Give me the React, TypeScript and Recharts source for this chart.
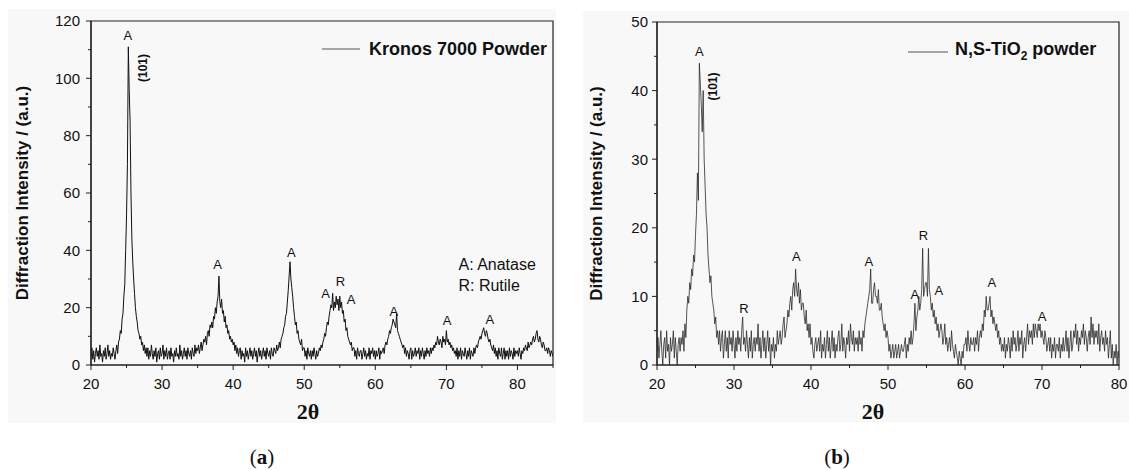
import { LineChart, Line, XAxis, YAxis, ReferenceDot, ReferenceArea, Legend } from 'recharts';

const SANS = '"Liberation Sans", Arial, sans-serif';
const SERIF = '"Liberation Serif", "Times New Roman", serif';

// (a) Kronos 7000 powder, scan from 20° in 0.125° steps (one row per degree)
const startA = 20;
const stepA = 0.125;
const intensityA = [
  3, 6, 2, 5, 1, 4, 6, 3,
  5, 2, 7, 3, 4, 1, 5, 3,
  6, 2, 4, 7, 3, 5, 2, 4,
  3, 6, 4, 2, 5, 7, 4, 8,
  9, 12, 11, 16, 18, 24, 28, 40,
  52, 70, 111, 96, 85, 60, 44, 36,
  30, 25, 20, 17, 15, 12, 11, 9,
  10, 7, 8, 5, 7, 4, 6, 3,
  6, 2, 5, 3, 7, 4, 2, 5,
  3, 6, 1, 4, 5, 2, 6, 3,
  4, 7, 2, 5, 3, 6, 2, 4,
  5, 2, 6, 3, 4, 1, 5, 3,
  6, 3, 4, 2, 7, 3, 5, 2,
  4, 6, 3, 5, 2, 6, 4, 3,
  5, 2, 6, 4, 3, 7, 4, 6,
  5, 7, 4, 6, 8, 5, 7, 9,
  8, 10, 7, 11, 12, 10, 14, 13,
  15, 13, 17, 16, 20, 18, 22, 24,
  31, 22, 20, 23, 18, 19, 15, 17,
  13, 14, 11, 12, 9, 10, 8, 9,
  7, 8, 5, 7, 4, 6, 3, 5,
  6, 2, 5, 3, 4, 1, 6, 3,
  5, 2, 4, 6, 3, 5, 2, 4,
  6, 3, 5, 1, 4, 6, 3, 5,
  2, 4, 6, 3, 5, 2, 6, 4,
  3, 5, 2, 6, 4, 3, 6, 5,
  4, 7, 5, 6, 8, 6, 9, 10,
  11, 13, 14, 17, 18, 22, 26, 31,
  36, 30, 27, 24, 20, 17, 14, 15,
  11, 12, 9, 8, 7, 9, 5, 6,
  6, 3, 5, 2, 6, 4, 3, 5,
  2, 5, 3, 6, 4, 2, 5, 3,
  4, 6, 5, 7, 6, 8, 9, 11,
  10, 13, 15, 14, 17, 19, 21, 20,
  25, 19, 22, 20, 24, 21, 23, 19,
  24, 20, 22, 18, 19, 15, 16, 12,
  13, 10, 9, 8, 7, 8, 5, 6,
  6, 3, 5, 2, 6, 4, 3, 5,
  5, 2, 4, 6, 3, 5, 2, 4,
  3, 6, 2, 5, 4, 6, 3, 5,
  2, 5, 3, 4, 6, 2, 5, 4,
  5, 6, 4, 7, 8, 7, 9, 10,
  12, 11, 13, 14, 16, 15, 14, 13,
  18, 12, 11, 10, 9, 8, 7, 6,
  7, 4, 6, 3, 5, 4, 2, 5,
  6, 2, 5, 3, 4, 6, 3, 5,
  4, 6, 2, 5, 3, 6, 4, 2,
  5, 3, 6, 4, 5, 3, 6, 4,
  6, 5, 7, 6, 8, 7, 10, 8,
  7, 9, 8, 6, 10, 8, 9, 7,
  12, 8, 9, 7, 8, 6, 7, 5,
  6, 4, 5, 3, 6, 2, 5, 3,
  6, 2, 5, 4, 3, 6, 4, 2,
  5, 3, 6, 2, 5, 4, 3, 6,
  4, 6, 7, 6, 8, 9, 10, 9,
  11, 12, 13, 11, 10, 12, 11, 9,
  8, 9, 7, 6, 5, 7, 4, 6,
  3, 5, 2, 6, 4, 3, 6, 2,
  4, 6, 2, 5, 3, 5, 2, 6,
  3, 5, 4, 2, 6, 3, 5, 4,
  5, 3, 6, 4, 2, 5, 4, 6,
  5, 7, 6, 5, 8, 6, 7, 8,
  7, 9, 10, 8, 9, 11, 12, 9,
  8, 10, 9, 7, 6, 8, 7, 5,
  5, 6, 4, 6, 5, 3, 5, 4,
  3,
];

// (b) N,S-TiO2 powder, scan from 20° in 0.125° steps (one row per degree)
const startB = 20;
const stepB = 0.125;
const intensityB = [
  2, 4, 1, 3, 5, 2, 0, 3,
  4, 1, 5, 2, 3, 0, 4, 2,
  3, 5, 1, 4, 2, 0, 3, 4,
  2, 4, 3, 5, 2, 6, 4, 8,
  10, 9, 12, 11, 14, 13, 16, 15,
  19, 22, 28, 24, 44, 41, 38, 34,
  40, 30, 26, 22, 20, 16, 14, 12,
  13, 10, 9, 8, 6, 7, 4, 5,
  3, 5, 2, 4, 5, 1, 3, 5,
  2, 4, 1, 5, 3, 4, 2, 5,
  3, 1, 4, 2, 5, 3, 4, 2,
  5, 7, 3, 4, 2, 5, 3, 1,
  4, 2, 5, 1, 3, 4, 2, 4,
  3, 6, 2, 4, 1, 3, 5, 2,
  4, 1, 3, 5, 2, 4, 0, 3,
  2, 4, 1, 3, 2, 5, 3, 4,
  5, 3, 4, 6, 7, 4, 5, 6,
  8, 7, 9, 10, 8, 11, 12, 10,
  14, 11, 10, 12, 9, 11, 8, 9,
  9, 7, 6, 8, 5, 6, 4, 6,
  3, 4, 2, 1, 3, 4, 2, 3,
  4, 2, 5, 1, 3, 2, 4, 1,
  3, 5, 2, 4, 1, 3, 5, 2,
  4, 1, 3, 2, 4, 5, 2, 3,
  6, 2, 4, 3, 1, 4, 3, 5,
  2, 6, 4, 3, 5, 2, 4, 3,
  4, 2, 5, 3, 4, 2, 5, 4,
  6, 7, 8, 9, 10, 11, 14, 9,
  9, 11, 12, 10, 10, 9, 11, 8,
  8, 9, 7, 6, 5, 6, 4, 5,
  4, 2, 3, 1, 2, 3, 1, 2,
  3, 1, 2, 3, 1, 2, 3, 2,
  2, 3, 4, 1, 3, 2, 4, 3,
  5, 3, 4, 6, 9, 5, 7, 8,
  10, 8, 9, 11, 17, 10, 11, 12,
  12, 10, 17, 11, 10, 8, 9, 7,
  8, 6, 7, 5, 6, 4, 5, 6,
  5, 3, 4, 6, 3, 4, 2, 3,
  4, 2, 5, 3, 2, 1, 3, 2,
  1, 0, 2, 1, 0, 2, 1, 3,
  3, 4, 2, 5, 3, 2, 4, 3,
  3, 4, 2, 4, 3, 5, 2, 4,
  5, 4, 6, 5, 8, 7, 10, 8,
  8, 9, 10, 7, 8, 6, 7, 6,
  5, 6, 4, 5, 3, 4, 2, 3,
  2, 4, 1, 3, 2, 4, 3, 1,
  4, 2, 5, 3, 4, 2, 3, 5,
  2, 4, 3, 5, 1, 3, 4, 2,
  4, 6, 3, 5, 4, 5, 3, 6,
  4, 6, 5, 4, 6, 5, 6, 4,
  5, 4, 3, 5, 4, 2, 3, 4,
  2, 4, 1, 3, 2, 4, 1, 3,
  3, 2, 4, 1, 3, 2, 4, 2,
  3, 5, 2, 4, 1, 3, 5, 2,
  3, 5, 4, 6, 3, 5, 2, 4,
  3, 5, 4, 6, 3, 5, 4, 2,
  4, 5, 3, 7, 4, 6, 3, 5,
  4, 5, 3, 6, 2, 4, 5, 3,
  4, 2, 5, 3, 4, 1, 3, 5,
  1, 3, 0, 2, 1, 3, 0, 2,
  1,
];

const xTicksA = [20, 25, 30, 35, 40, 45, 50, 55, 60, 65, 70, 75, 80, 85];
const xLabelsA = [20, 30, 40, 50, 60, 70, 80];
const yTicksA = [0, 10, 20, 30, 40, 50, 60, 70, 80, 90, 100, 110, 120];
const yLabelsA = [0, 20, 40, 60, 80, 100, 120];

const xTicksB = [20, 25, 30, 35, 40, 45, 50, 55, 60, 65, 70, 75, 80];
const xLabelsB = [20, 30, 40, 50, 60, 70, 80];
const yTicksB = [0, 5, 10, 15, 20, 25, 30, 35, 40, 45, 50];
const yLabelsB = [0, 10, 20, 30, 40, 50];

// phase marks (A = anatase, R = rutile) in data coordinates
const peakMarksA = [
  { x: 25.2, y: 114.8, text: 'A' },
  { x: 37.8, y: 34.9, text: 'A' },
  { x: 48.2, y: 39.2, text: 'A' },
  { x: 53.0, y: 25.0, text: 'A' },
  { x: 55.1, y: 29.3, text: 'R' },
  { x: 56.6, y: 23.0, text: 'A' },
  { x: 62.6, y: 18.6, text: 'A' },
  { x: 70.1, y: 15.5, text: 'A' },
  { x: 76.1, y: 15.7, text: 'A' },
];
const peakMarksB = [
  { x: 25.5, y: 45.7, text: 'A' },
  { x: 31.3, y: 8.2, text: 'R' },
  { x: 38.1, y: 15.8, text: 'A' },
  { x: 47.5, y: 15.1, text: 'A' },
  { x: 53.5, y: 10.3, text: 'A' },
  { x: 54.6, y: 18.9, text: 'R' },
  { x: 56.6, y: 10.9, text: 'A' },
  { x: 63.5, y: 12.0, text: 'A' },
  { x: 70.0, y: 7.0, text: 'A' },
];
const hklA = { x: 27.3, y: 103.6, text: '(101)' };
const hklB = { x: 27.3, y: 40.6, text: '(101)' };
const phaseKeyA = [
  { x: 71.7, y: 34.9, text: 'A: Anatase' },
  { x: 71.7, y: 27.9, text: 'R: Rutile' },
];

const buildRows = (start: number, step: number, values: number[]) =>
  values.map((v, i) => ({ x: +(start + i * step).toFixed(3), y: v }));

const makeXTick = (labels: number[]) => (props: any) => {
  const { x, y, payload } = props;
  const major = labels.includes(payload.value);
  return (
    <g>
      <line x1={x} x2={x} y1={y} y2={y + (major ? 5 : 3)} stroke="#222" strokeWidth={1} />
      {major && (
        <text x={x} y={y + 23.5} textAnchor="middle" fontSize={15} fontFamily={SANS} fill="#111">
          {payload.value}
        </text>
      )}
    </g>
  );
};

const makeYTick = (labels: number[], gap: number) => (props: any) => {
  const { x, y, payload } = props;
  const major = labels.includes(payload.value);
  return (
    <g>
      <line x1={x - (major ? 5 : 3)} x2={x} y1={y} y2={y} stroke="#222" strokeWidth={1} />
      {major && (
        <text x={x - gap} y={y + 5.4} textAnchor="end" fontSize={15} fontFamily={SANS} fill="#111">
          {payload.value}
        </text>
      )}
    </g>
  );
};

const markShape = (text: string) => (p: any) => (
  <text x={p.cx} y={p.cy} textAnchor="middle" dominantBaseline="central" fontSize={13} fontFamily={SANS} fill="#111">
    {text}
  </text>
);

const keyShape = (text: string) => (p: any) => (
  <text x={p.cx} y={p.cy} textAnchor="start" dominantBaseline="central" fontSize={16} fontFamily={SANS} fill="#111">
    {text}
  </text>
);

const hklShape = (text: string) => (p: any) => (
  <text
    x={p.cx}
    y={p.cy}
    textAnchor="middle"
    dominantBaseline="central"
    fontSize={12}
    fontWeight={700}
    fontFamily={SANS}
    fill="#111"
    transform={`rotate(-90, ${p.cx}, ${p.cy})`}
  >
    {text}
  </text>
);

const legendBox = (name: React.ReactNode, lineW: number, gap: number) => () => (
  <div style={{ display: 'flex', alignItems: 'center', height: 22, whiteSpace: 'nowrap' }}>
    <svg width={lineW} height={2} style={{ display: 'block' }}>
      <line x1={0} x2={lineW} y1={1} y2={1} stroke="#555" strokeWidth={1} />
    </svg>
    <span style={{ marginLeft: gap, fontFamily: SANS, fontWeight: 700, fontSize: 18, color: '#111', lineHeight: '22px' }}>
      {name}
    </span>
  </div>
);

const yTitle = 'Diffraction Intensity / (a.u.)';

interface PanelProps {
  rows: { x: number; y: number }[];
  left: number;
  width: number;
  margin: { top: number; right: number; bottom: number; left: number };
  yAxisWidth: number;
  yTitleX: number;
  xDomain: [number, number];
  yDomain: [number, number];
  xTicks: number[];
  xLabels: number[];
  yTicks: number[];
  yLabels: number[];
  labelGap: number;
  marks: { x: number; y: number; text: string }[];
  hkl: { x: number; y: number; text: string };
  keys: { x: number; y: number; text: string }[];
  legend: React.ReactNode;
  legendLeft: number;
  legendTop: number;
  legendLine: number;
  legendGap: number;
  stroke: string;
  strokeWidth: number;
  titleShift: number;
}

function Panel(p: PanelProps) {
  return (
    <div style={{ position: 'absolute', left: p.left, top: 0 }}>
      <LineChart width={p.width} height={430} data={p.rows} margin={p.margin}>
        <XAxis
          dataKey="x"
          type="number"
          domain={p.xDomain}
          allowDataOverflow
          ticks={p.xTicks}
          interval={0}
          tickSize={0}
          tickMargin={0}
          tickLine={false}
          tick={makeXTick(p.xLabels)}
          axisLine={{ stroke: '#222', strokeWidth: 1.2 }}
          height={58}
          label={{
            value: '2θ',
            position: 'insideBottom',
            offset: 4,
            dx: p.titleShift,
            style: { fontFamily: SERIF, fontWeight: 700, fontSize: 22, fill: '#111' },
          }}
        />
        <YAxis
          type="number"
          domain={p.yDomain}
          allowDataOverflow
          ticks={p.yTicks}
          interval={0}
          tickSize={0}
          tickMargin={0}
          tickLine={false}
          tick={makeYTick(p.yLabels, p.labelGap)}
          axisLine={{ stroke: '#222', strokeWidth: 1.2 }}
          width={p.yAxisWidth}
          label={{
            value: yTitle,
            angle: -90,
            position: 'insideLeft',
            offset: p.yTitleX,
            style: { textAnchor: 'middle', fontFamily: SANS, fontWeight: 700, fontSize: 17, fill: '#111' },
          }}
        />
        <ReferenceArea
          x1={p.xDomain[0]}
          x2={p.xDomain[1]}
          y1={p.yDomain[0]}
          y2={p.yDomain[1]}
          fill="none"
          stroke="#222"
          strokeWidth={1.2}
        />
        <Line
          dataKey="y"
          type="linear"
          stroke={p.stroke}
          strokeWidth={p.strokeWidth}
          dot={false}
          activeDot={false}
          isAnimationActive={false}
        />
        {p.marks.map((m, i) => (
          <ReferenceDot key={'m' + i} x={m.x} y={m.y} r={0} shape={markShape(m.text)} />
        ))}
        <ReferenceDot x={p.hkl.x} y={p.hkl.y} r={0} shape={hklShape(p.hkl.text)} />
        {p.keys.map((k, i) => (
          <ReferenceDot key={'k' + i} x={k.x} y={k.y} r={0} shape={keyShape(k.text)} />
        ))}
        <Legend
          layout="vertical"
          align="center"
          verticalAlign="middle"
          wrapperStyle={{ left: p.legendLeft, top: p.legendTop, width: 260 }}
          content={legendBox(p.legend, p.legendLine, p.legendGap)}
        />
      </LineChart>
    </div>
  );
}

export default function App() {
  const rowsA = buildRows(startA, stepA, intensityA);
  const rowsB = buildRows(startB, stepB, intensityB);

  return (
    <div style={{ position: 'absolute', left: 0, top: 0, width: 1129, height: 470, background: '#fff', overflow: 'hidden' }}>
      <div style={{ position: 'absolute', left: 8, top: 9, width: 548, height: 414, background: '#f8f8f8' }} />
      <div style={{ position: 'absolute', left: 583, top: 11, width: 546, height: 411, background: '#f8f8f8' }} />

      <Panel
        rows={rowsA}
        left={0}
        width={560}
        margin={{ top: 21, right: 7, bottom: 7, left: 0 }}
        yAxisWidth={91}
        yTitleX={22}
        xDomain={[20, 85]}
        yDomain={[0, 120]}
        xTicks={xTicksA}
        xLabels={xLabelsA}
        yTicks={yTicksA}
        yLabels={yLabelsA}
        labelGap={11}
        marks={peakMarksA}
        hkl={hklA}
        keys={phaseKeyA}
        legend="Kronos 7000 Powder"
        legendLeft={322}
        legendTop={38}
        legendLine={38}
        legendGap={9}
        stroke="#111"
        strokeWidth={1}
        titleShift={-14}
      />

      <Panel
        rows={rowsB}
        left={570}
        width={559}
        margin={{ top: 22, right: 10, bottom: 7, left: 0 }}
        yAxisWidth={87}
        yTitleX={26}
        xDomain={[20, 80]}
        yDomain={[0, 50]}
        xTicks={xTicksB}
        xLabels={xLabelsB}
        yTicks={yTicksB}
        yLabels={yLabelsB}
        labelGap={9}
        marks={peakMarksB}
        hkl={hklB}
        keys={[]}
        legend={<>N,S-TiO<sub style={{ fontSize: 12 }}>2</sub> powder</>}
        legendLeft={338}
        legendTop={41}
        legendLine={40}
        legendGap={7}
        stroke="#2a2a2a"
        strokeWidth={0.8}
        titleShift={-15}
      />

      <div style={{ position: 'absolute', left: 212, top: 444, width: 100, textAlign: 'center', fontFamily: SERIF, fontSize: 21, lineHeight: '26px', color: '#111' }}>
        (<b>a</b>)
      </div>
      <div style={{ position: 'absolute', left: 787, top: 444, width: 100, textAlign: 'center', fontFamily: SERIF, fontSize: 21, lineHeight: '26px', color: '#111' }}>
        (<b>b</b>)
      </div>
    </div>
  );
}
